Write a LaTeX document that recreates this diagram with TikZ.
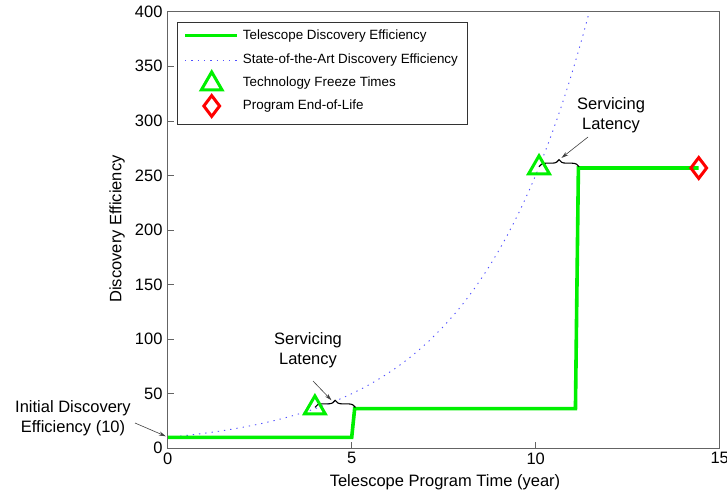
\documentclass[tikz,border=0pt]{standalone}
\usepackage{fontspec}
\setmainfont{Liberation Sans}
\usetikzlibrary{shapes.geometric,decorations.pathreplacing,arrows.meta}
\definecolor{mgreen}{RGB}{0,240,0}
\definecolor{mred}{RGB}{255,0,0}
\definecolor{mblue}{RGB}{80,80,255}
\definecolor{axgray}{RGB}{100,100,100}
\tikzset{
  tick/.style={font=\fontsize{16.5}{18}\selectfont},
  axlab/.style={font=\fontsize{16.5}{18}\selectfont},
  annot/.style={font=\fontsize{16.5}{20}\selectfont, align=center},
  legtext/.style={font=\fontsize{13.4}{15}\selectfont, anchor=west, inner sep=0pt},
  teleline/.style={mgreen, line width=3.6pt, line join=miter},
  soaline/.style={mblue, dash pattern=on 1.3pt off 5pt, line width=0.9pt},
  freezemark/.style={regular polygon, regular polygon sides=3, draw=mgreen, line width=3pt, minimum size=24pt, inner sep=0pt},
  eolmark/.style={diamond, draw=mred, line width=3pt, minimum width=17pt, minimum height=22pt, inner sep=0pt},
  latbrace/.style={decorate, decoration={brace, amplitude=7pt}, line width=1.1pt, black},
  pointer/.style={-{Stealth[length=7pt,width=4pt]}, line width=0.6pt, black!75},
}
\begin{document}
\begin{tikzpicture}[x=1pt,y=-1pt]
\useasboundingbox (0,0) rectangle (727,494);
\fill[white] (0,0) rectangle (727,494);
% data scope
\begin{scope}[shift={(167.7pt,-448.3pt)}, x=36.8pt, y=1.0915pt]
  % ticks
  \foreach \v in {0,50,...,400} {
    \draw[axgray, line width=0.6pt] (0,\v) -- ++(6pt,0);
    \node[tick, anchor=east, inner sep=0pt] (yt\v) at ([xshift=-5pt]0,\v) {\v};
  }
  \foreach \v in {0,5,10,15} {
    \draw[axgray, line width=0.6pt] (\v,0) -- ++(0,6pt);
    \node[tick, anchor=north, inner sep=0pt] (xt\v) at ([yshift=-4pt]\v,0) {\v};
  }
  % curves
  \draw[soaline] plot[domain=0:11.46, samples=120] (\x,{10*exp(0.322*\x)});
  \draw[teleline] (0,10) -- (5.0,10) -- (5.08,36.3) -- (11.08,36.3) -- (11.16,256.8) -- (14.43,256.8);
  % braces
  \draw[latbrace] (4.0,37.5) -- (5.1,37.5);
  \coordinate (tip1) at (4.45,44);
  \draw[latbrace] (10.09,258) -- (11.18,258);
  \coordinate (tip2) at (10.7,266);
  % markers
  \node[freezemark] (f1) at (4.0,37) {};
  \node[freezemark] (f2) at (10.09,257) {};
  \node[eolmark] (eol) at (14.43,256.8) {};
  \coordinate (init) at (-0.05,11);
  % axes box
  \draw[axgray, line width=0.8pt] (0,0) rectangle (15,400);
\end{scope}
% axis labels
\node[axlab] (xl) at (445,482) {Telescope Program Time (year)};
\node[axlab, rotate=90] (yl) at (117,229) {Discovery Efficiency};
% annotations
\node[annot] (lat1) at (308,350) {Servicing\\Latency};
\node[annot] (lat2) at (611,115) {Servicing\\Latency};
\node[annot] (ini) at (73,418) {Initial Discovery\\Efficiency (10)};
\draw[pointer] (313,381) -- (tip1);
\draw[pointer] (588,137) -- (tip2);
\draw[pointer] (135,423) -- (init);
% legend
\draw[black!80, line width=0.7pt, fill=white] (177.3,22.7) rectangle (467.7,124.3);
\draw[teleline] (185,35.7) -- (236.7,35.7);
\draw[soaline] (185,60) -- (236.7,60);
\node[freezemark] (lf) at (211.7,84) {};
\node[eolmark] (le) at (211.7,106) {};
\node[legtext] (l1) at (242.7,35.7) {Telescope Discovery Efficiency};
\node[legtext] (l2) at (242.7,60) {State-of-the-Art Discovery Efficiency};
\node[legtext] (l3) at (242.7,82.7) {Technology Freeze Times};
\node[legtext] (l4) at (242.7,106) {Program End-of-Life};
\end{tikzpicture}
\end{document}
